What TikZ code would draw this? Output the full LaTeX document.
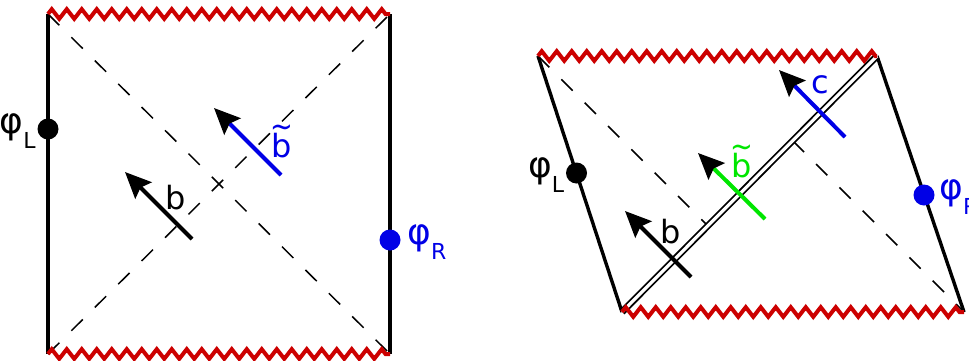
\documentclass[tikz,border=0pt]{standalone}
\usepackage{fontspec}
\setmainfont{DejaVu Sans}
\usetikzlibrary{arrows.meta,decorations.pathmorphing}
\definecolor{singred}{RGB}{204,0,0}
\definecolor{myblue}{RGB}{0,0,230}
\definecolor{mygreen}{RGB}{0,230,0}
\newcommand{\lowsub}[1]{\raisebox{-0.42em}{\fontsize{11}{13}\selectfont #1}}
\newcommand{\tildeb}{\ooalign{b\cr\hidewidth\raisebox{0.62em}{\scalebox{0.85}[1]{\char"7E}}\hidewidth\cr}}

\begin{document}
\begin{tikzpicture}[x=0.5pt,y=-0.5pt,>={Stealth[length=13pt,width=11.5pt,inset=2pt]},
    wall/.style={line width=1.7pt},
    horizon/.style={line width=0.75pt,dash pattern=on 8pt off 8.5pt},
    singular/.style={singred,line width=2pt,decorate,decoration={zigzag,segment length=7.5pt,amplitude=2.4pt}},
    blob/.style={circle,fill,inner sep=0pt,minimum size=10.5pt},
    mover/.style={line width=2pt,->},
    blacktip/.style={line width=2pt,-{Stealth[length=13pt,width=11.5pt,inset=2pt,black]}},
    lbl/.style={font=\fontsize{16}{18}\selectfont,inner sep=0pt},
    philbl/.style={font=\fontsize{18}{20}\selectfont,inner sep=0pt}]

    \useasboundingbox (0,0) rectangle (969,360);

    % LEFT DIAGRAM
    \begin{scope}
        \coordinate (v1) at (48,14);
        \coordinate (v2) at (390,14);
        \coordinate (v3) at (390,354);
        \coordinate (v4) at (48,354);
        \draw[horizon] (v1) -- (v3);
        \draw[horizon] (v4) -- (v2);
        \draw[wall] (v1) -- (v4);
        \draw[wall] (v2) -- (v3);
        \draw[singular] (v1) -- (v2);
        \draw[singular] (v4) -- (v3);
        \node[blob] (phiL) at (48,129) {};
        \node[philbl,anchor=east] (phiLlbl) at ([xshift=-0.5pt,yshift=-1pt]phiL.west) {φ\lowsub{L}};
        \node[blob,myblue] (phiR) at (390,240) {};
        \node[philbl,anchor=west,myblue] (phiRlbl) at ([xshift=3pt,yshift=-1pt]phiR.east) {φ\lowsub{R}};
        % b
        \coordinate (b0) at (192,239);
        \coordinate (b1) at (125,172);
        \draw[mover] (b0) -- (b1);
        \node[lbl,anchor=base] (blbl) at (176,209) {b};
        % b tilde
        \coordinate (bt0) at (281,175);
        \coordinate (bt1) at (214,108);
        \draw[blacktip,myblue] (bt0) -- (bt1);
        \node[lbl,anchor=base,myblue] (btlbl) at (282,157) {\tildeb};
    \end{scope}

    % RIGHT DIAGRAM
    \begin{scope}
        \coordinate (w1) at (538,56);
        \coordinate (w2) at (877,56);
        \coordinate (w3) at (964,312);
        \coordinate (w4) at (622,312);
        \coordinate (m1) at (707.8,225.8);
        \coordinate (m2) at (792.7,140.7);
        \draw[horizon] (w1) -- (m1);
        \draw[horizon] (m2) -- (w3);
        \draw[wall] (w1) -- (w4);
        \draw[wall] (w2) -- (w3);
        \draw[double,line width=0.9pt,double distance=1.6pt] (w4) -- (w2);
        \draw[singular] (w1) -- (w2);
        \draw[singular] (w4) -- (w3);
        \node[blob] (psiL) at (576.5,173) {};
        \node[philbl,anchor=east] (psiLlbl) at ([xshift=-0.5pt,yshift=-1pt]psiL.west) {φ\lowsub{L}};
        \node[blob,myblue] (psiR) at (924,195) {};
        \node[philbl,anchor=west,myblue] (psiRlbl) at ([xshift=2pt,yshift=-1pt]psiR.east) {φ\lowsub{R}};
        % b
        \coordinate (c0) at (691,277);
        \coordinate (c1) at (625,211);
        \draw[mover] (c0) -- (c1);
        \node[lbl,anchor=base] (clbl) at (671,243) {b};
        % b tilde
        \coordinate (ct0) at (765,219);
        \coordinate (ct1) at (698,153);
        \draw[blacktip,mygreen] (ct0) -- (ct1);
        \node[lbl,anchor=base,mygreen] (ctlbl) at (742,177) {\tildeb};
        % c
        \coordinate (d0) at (845,137);
        \coordinate (d1) at (779,70);
        \draw[blacktip,myblue] (d0) -- (d1);
        \node[lbl,anchor=base,myblue] (dlbl) at (820,93) {c};
    \end{scope}

\end{tikzpicture}
\end{document}
